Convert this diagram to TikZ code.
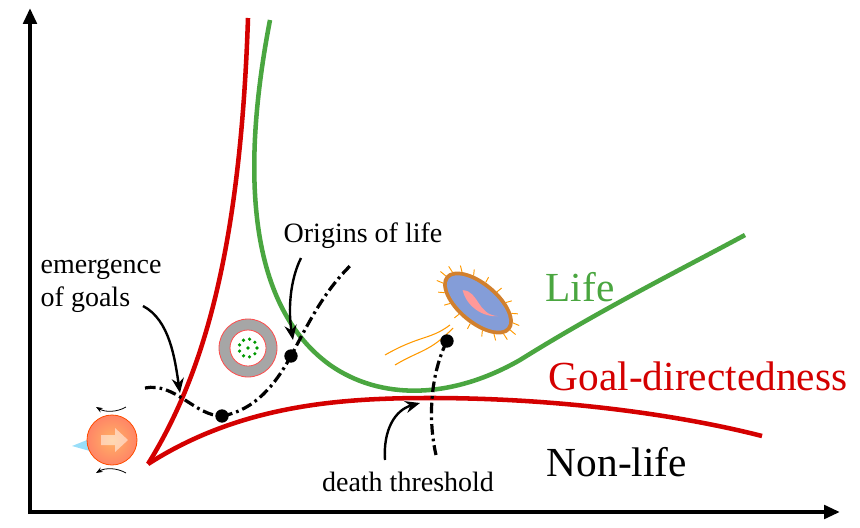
\documentclass[tikz,border=0pt]{standalone}
\usepackage{fontspec}
\setmainfont{Liberation Serif}
\usetikzlibrary{arrows.meta}
\definecolor{cred}{HTML}{D40000}
\definecolor{cgreen}{HTML}{4AA640}
\begin{document}
\begin{tikzpicture}[x=0.75pt,y=-0.75pt,
 axis/.style={line width=3pt,-{Triangle[length=12pt,width=10pt]}},
 curve/.style={line width=3.4pt},
 traj/.style={line width=2.4pt,dash pattern=on 8pt off 3pt on 2pt off 3pt},
 pointer/.style={line width=1.8pt,-{Stealth[length=11pt,width=9pt]}},
 lbl/.style={font=\fontsize{21}{25}\selectfont,align=left},
 big/.style={font=\fontsize{31}{34}\selectfont},
 dot/.style={circle,fill=black,inner sep=0pt,minimum size=10pt}]
\useasboundingbox (0,0) rectangle (860,528);
\coordinate (yt) at (30,8);
\coordinate (xt) at (840,512);
\draw[axis] (30,514) -- (yt);
\draw[axis] (28,512) -- (xt);
% curves
\draw[curve,cred] (148,464) .. controls (200,380) and (240,260) .. (248,18);
\draw[curve,cred] (148,464) .. controls (240,405) and (340,398) .. (430,398) .. controls (560,398) and (680,415) .. (762,436);
\draw[curve,cgreen] (270,20) .. controls (245,150) and (240,300) .. (330,365) .. controls (380,400) and (450,400) .. (520,360) .. controls (600,310) and (680,270) .. (745,235);
% icons
\begin{scope}[shift={(248,348)}]
\fill[gray!70] (0,0) circle (29);
\draw[red!70,line width=0.6pt] (0,0) circle (29);
\fill[white] (0,0) circle (18);
\draw[red!70,line width=0.6pt] (0,0) circle (18);
\foreach \a in {0,40,...,320}{\fill[green!60!black] (\a:9) circle (1.8);}
\fill[green!60!black] (0,0) circle (1.8);
\end{scope}
\begin{scope}[shift={(478,303)},rotate=-40]
\foreach \a in {0,20,...,340}{\draw[orange!80!yellow,line width=0.7pt] (\a:{42} and {21}) -- (\a:{49} and {27});}
\fill[brown!70!orange] (0,0) ellipse (42 and 21);
\fill[cyan!40!blue!50] (0,0) ellipse (38 and 17);
\fill[red!40] (-20,0) .. controls (-7,-10) and (7,10) .. (24,-3) .. controls (13,8) and (-7,10) .. (-20,0);
\end{scope}
\draw[orange!80!yellow,line width=0.8pt] (450,325) .. controls (430,340) and (420,335) .. (385,355);
\draw[orange!80!yellow,line width=0.8pt] (453,328) .. controls (430,352) and (420,350) .. (395,365);
\begin{scope}[shift={(112,440)}]
\fill[cyan!40] (-40,6) -- (-15,-4) -- (-15,13) -- cycle;
\shade[inner color=orange!60,outer color=orange!40!red!60] (0,0) circle (25);
\draw[orange!60!red,line width=0.6pt] (0,0) circle (25);
\fill[white,opacity=0.5] (-11,-5) -- (3,-5) -- (3,-12) -- (16,0) -- (3,12) -- (3,5) -- (-11,5) -- cycle;
\draw[-{Stealth[length=5pt]},line width=0.6pt] (14,-33) arc (60:120:30);
\draw[-{Stealth[length=5pt]},line width=0.6pt] (14,33) arc (-60:-120:30);
\end{scope}
% trajectories
\node[dot] (d1) at (222,416) {};
\node[dot] (d2) at (291,356) {};
\node[dot] (d3) at (447,341) {};
\coordinate (s1) at (145,388);
\coordinate (e1) at (352,264);
\coordinate (e3) at (436,455);
\draw[traj] (s1) .. controls (175,382) and (195,416) .. (d1.center);
\draw[traj] (d1.center) .. controls (255,410) and (275,385) .. (d2.center) .. controls (310,320) and (325,290) .. (e1);
\draw[traj] (d3.center) .. controls (430,375) and (428,420) .. (e3);
% labels
\node[lbl,anchor=north west] (eg) at (36,254) {emergence\\of goals};
\node[lbl] (ol) at (363,236) {Origins of life};
\node[big,text=cgreen] (lf) at (580,287) {Life};
\node[big,text=cred] (gd) at (698,376) {Goal-directedness};
\node[big] (nl) at (617,462) {Non-life};
\node[lbl] (dt) at (408,482) {death threshold};
\draw[pointer] (143,306) .. controls (170,320) and (175,360) .. (180,393);
\draw[pointer] (301,258) .. controls (290,280) and (288,310) .. (293,340);
\draw[pointer] (385,460) .. controls (383,430) and (395,410) .. (420,403);
\end{tikzpicture}
\end{document}
